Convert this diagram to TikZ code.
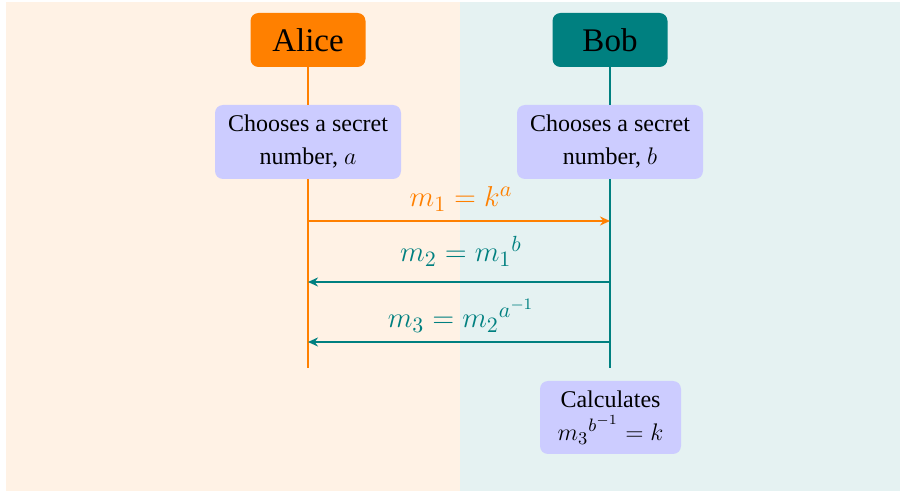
\documentclass[tikz,border=0pt]{standalone}
\usepackage[no-math]{fontspec}
\setmainfont{Liberation Serif}
\usetikzlibrary{arrows.meta}
\DeclareMathSizes{12}{12}{9}{7.5}
\DeclareMathSizes{14.4}{14.4}{10.5}{8.5}
\tikzset{
  actor/.style={rounded corners=4pt, minimum width=57.5pt, minimum height=27pt, inner sep=0pt,
    text=black, font=\fontsize{16.5}{20}\selectfont},
  notebox/.style={fill=blue!20, rounded corners=4pt, align=center, inner sep=0pt,
    font=\fontsize{12}{16.5}\selectfont},
  lifeA/.style={draw=orange, line width=1pt},
  lifeB/.style={draw=teal, line width=1pt},
  msg/.style={line width=1pt, -{Stealth[length=5pt,width=4.5pt]}},
  lbl/.style={midway, anchor=base, xshift=1pt, font=\fontsize{14.4}{17}\selectfont},
}
\begin{document}
\begin{tikzpicture}[x=0.5pt,y=-0.5pt]
\useasboundingbox (0,0) rectangle (902,492);
\fill[orange!10] (6,2) rectangle (460,491);
\fill[teal!10] (460,2) rectangle (900,491);

\node[actor, fill=orange] (alice) at (308,40) {Alice};
\node[actor, fill=teal] (bob) at (610,40) {Bob};

\node[notebox, minimum width=93pt, minimum height=37pt] (abox) at (308,142) {Chooses a secret\\ number, $a$};
\node[notebox, minimum width=93pt, minimum height=37pt] (bbox) at (610,142) {Chooses a secret\\ number, $b$};

\coordinate (aend) at (308,368);
\coordinate (bend) at (610,368);

\draw[lifeA] (alice) -- (abox);
\draw[lifeA] (abox) -- (aend);
\draw[lifeB] (bob) -- (bbox);
\draw[lifeB] (bbox) -- (bend);

\coordinate (a1) at (308,221);
\coordinate (b1) at (610,221);
\coordinate (a2) at (308,282);
\coordinate (b2) at (610,282);
\coordinate (a3) at (308,342);
\coordinate (b3) at (610,342);

\draw[msg, orange] (a1) -- node[lbl, text=orange, yshift=7pt] {$m_1 = k^a$} (b1);
\draw[msg, teal] (b2) -- node[lbl, text=teal, yshift=10pt] {$m_2 = {m_1}^b$} (a2);
\draw[msg, teal] (b3) -- node[lbl, text=teal, yshift=7pt] {$m_3 = {m_2}^{a^{-1}}$} (a3);

\node[notebox, minimum width=70.5pt, minimum height=36.5pt] (calc) at (610.5,417.5) {Calculates\\ ${m_3}^{b^{-1}} = k$};
\end{tikzpicture}
\end{document}
